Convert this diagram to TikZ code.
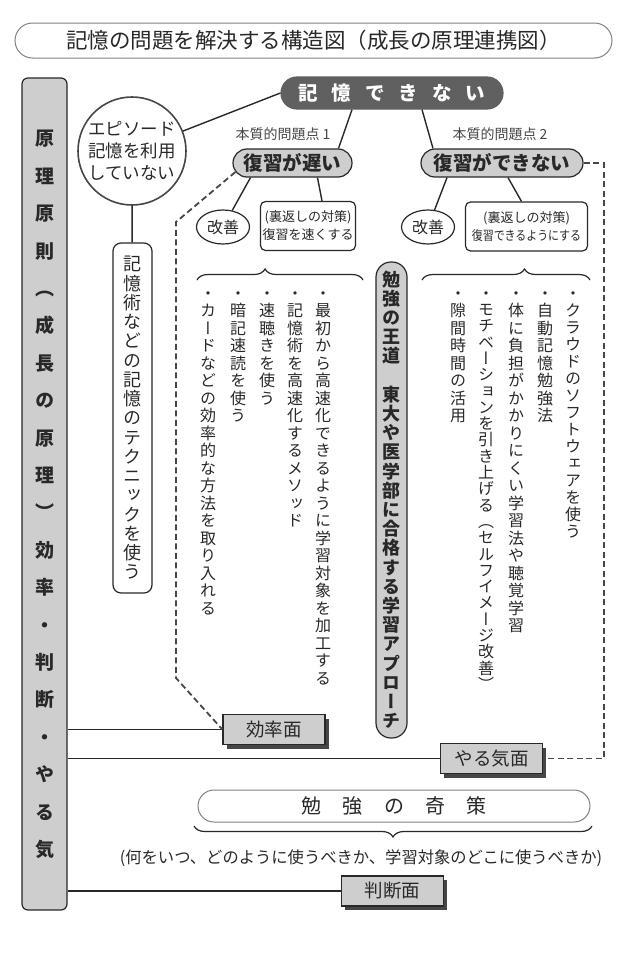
\documentclass[tikz,border=0pt]{standalone}
\usepackage{fontspec}
\usepackage{graphicx}
\setmainfont{Noto Sans CJK JP}
\newfontfamily\jpv[RawFeature=+vert]{Noto Sans CJK JP}
\usetikzlibrary{calc,shapes.geometric,shadows,decorations.pathreplacing}
\definecolor{mygrayi}{RGB}{206,206,206}
\definecolor{mygrayii}{RGB}{96,96,96}
\definecolor{mygrayiii}{RGB}{70,70,70}
\definecolor{myink}{RGB}{40,40,40}
% vertical text: one character per line, fixed pitch
\newcommand\tate[2]{\vbox{\baselineskip=#1\lineskiplimit=-\maxdimen\tatego#2\relax}}
\def\tatego#1{\ifx\relax#1\else\hbox to 1em{\hss\vrule height .88em depth .12em width 0pt\relax#1\hss}\expandafter\tatego\fi}
% spaced-out horizontal text
\newcommand\spaced[2]{\def\spgap{#1}\spgo#2\relax}
\def\spgo#1{\ifx\relax#1\else\kern\spgap#1\kern\spgap\expandafter\spgo\fi}

\begin{document}
\begin{tikzpicture}[x=1pt,y=-1pt,
titleb/.style={
  draw=gray,
  line width=1pt,
  rounded corners=17.5pt,
  minimum width=597pt,
  minimum height=35pt,
  text=myink,
  font=\fontsize{21.5pt}{24pt}\selectfont},
genb/.style={
  draw=myink,
  line width=1.2pt,
  fill=mygrayi,
  rounded corners=6pt,
  minimum width=45pt,
  minimum height=832pt,
  inner sep=0pt,
  text=myink,
  font=\fontsize{19pt}{19pt}\selectfont\jpv\bfseries},
pillb/.style={
  draw=myink,
  line width=1.2pt,
  fill=mygrayi,
  rounded corners=14pt,
  minimum height=28pt,
  inner sep=2pt,
  text=myink,
  font=\fontsize{19.5pt}{20pt}\selectfont\bfseries},
darkb/.style={pillb,draw=mygrayii,fill=mygrayii,text=white,
  rounded corners=16pt,minimum height=32pt,minimum width=222pt},
kaib/.style={ellipse,draw=myink,line width=1.2pt,minimum width=53pt,minimum height=34pt,
  inner sep=0pt,text=myink,font=\fontsize{16pt}{16pt}\selectfont},
urab/.style={draw=myink,line width=1.2pt,rounded corners=5pt,minimum height=49pt,
  align=center,inner sep=2pt,text=myink,font=\fontsize{13pt}{18pt}\selectfont},
listb/.style={anchor=north,inner sep=0pt,text=myink,
  font=\fontsize{16pt}{16pt}\selectfont\jpv},
menb/.style={
  draw=myink,
  line width=1.2pt,
  fill=mygrayi,
  minimum width=102pt,
  minimum height=30pt,
  text=myink,
  font=\fontsize{18.5pt}{18.5pt}\selectfont,
  drop shadow={shadow xshift=3.5pt,shadow yshift=-4pt,fill=mygrayiii,opacity=1}},
conn/.style={draw=myink,line width=1.4pt},
dashl/.style={draw=mygrayiii,line width=1.8pt,dash pattern=on 6pt off 3.5pt},
braceb/.style={draw=myink,line width=1.2pt,decorate,decoration={brace,amplitude=11pt,#1}},
]
\useasboundingbox (0,0) rectangle (633,961);
\node[titleb] (Tit) at (313.5,40.5) {記憶の問題を解決する構造図（成長の原理連携図）};
\node[genb] (Gen) at (44.5,494) {\tate{37.4pt}{原理原則（成長の原理）効率・判断・やる気}};
\node[darkb] (Kio) at (392,93) {\spaced{7pt}{記憶できない}};
\node[circle,draw=mygrayiii,line width=1.6pt,minimum size=108pt,inner sep=0pt,align=center,
  text=myink,font=\fontsize{17.5pt}{22pt}\selectfont] (Epi) at (132,151) {エピソード\\記憶を利用\\していない};
\node[draw=myink,line width=1.2pt,rounded corners=8pt,minimum width=39pt,minimum height=350pt,inner sep=0pt,
  text=myink,font=\fontsize{18pt}{18pt}\selectfont\jpv] (Jut) at (132.5,418)
  {\tate{19.25pt}{記憶術などの記憶のテクニックを使う}};
\node[text=mygrayiii,font=\fontsize{14pt}{14pt}\selectfont] (Hon1) at (283,134) {本質的問題点 1};
\node[text=mygrayiii,font=\fontsize{14pt}{14pt}\selectfont] (Hon2) at (500,134) {本質的問題点 2};
\node[pillb,minimum width=119pt] (Fu1) at (292.5,163) {復習が遅い};
\node[pillb,minimum width=162pt] (Fu2) at (502,163) {復習ができない};
\node[kaib] (Kai1) at (223,227) {改善};
\node[kaib] (Kai2) at (428,227) {改善};
\node[urab,minimum width=90pt] (Ura1) at (308,226) {(裏返しの対策)\\復習を速くする};
\node[urab,minimum width=122pt] (Ura2) at (526.5,226.5) {(裏返しの対策)\\\scalebox{0.84}[1]{復習できるようにする}};
% braces over the two lists
\draw[braceb={aspect=0.41}] (197,280) -- (363,280);
\draw[braceb={aspect=0.61}] (422,280) -- (590,280);
\node[listb] (L1) at (323,285) {\tate{17.5pt}{・最初から高速化できるように学習対象を加工する}};
\node[listb] (L2) at (295,285) {\tate{17.5pt}{・記憶術を高速化するメソッド}};
\node[listb] (L3) at (267,285) {\tate{17.5pt}{・速聴きを使う}};
\node[listb] (L4) at (238,285) {\tate{17.5pt}{・暗記速読を使う}};
\node[listb] (L5) at (208,285) {\tate{17.5pt}{・カードなどの効率的な方法を取り入れる}};
\node[listb] (R1) at (573,285) {\tate{17pt}{・クラウドのソフトウェアを使う}};
\node[listb] (R2) at (545,285) {\tate{17.5pt}{・自動記憶勉強法}};
\node[listb] (R3) at (516,285) {\tate{17.5pt}{・体に負担がかかりにくい学習法や聴覚学習}};
\node[listb] (R4) at (486,285) {\tate{16.3pt}{・モチベーションを引き上げる（セルフイメージ改善）}};
\node[listb] (R5) at (458,285) {\tate{17.5pt}{・隙間時間の活用}};
\node[draw=myink,line width=1.2pt,fill=mygrayi,rounded corners=15pt,minimum width=31pt,minimum height=476pt,
  inner sep=0pt,text=myink,font=\fontsize{18pt}{18pt}\selectfont\jpv\bfseries] (Oud) at (391.5,500)
  {\tate{19.2pt}{勉強の王道　東大や医学部に合格する学習アプローチ}};
\node[menb] (Kou) at (274,729.5) {効率面};
\node[menb] (Yar) at (491.5,758.5) {やる気面};
\node[menb] (Han) at (392.5,891) {判断面};
\node[draw=gray,line width=1pt,rounded corners=16pt,minimum width=392pt,minimum height=32pt,
  text=myink,font=\fontsize{20pt}{20pt}\selectfont] (Kis) at (394,806) {\spaced{10.6pt}{勉強の奇策}};
\draw[braceb={aspect=0.5}] (592,826) -- (194,826);
\node[text=myink,font=\fontsize{16.3pt}{16.3pt}\selectfont] (Nan) at (361,858)
  {(何をいつ、どのように使うべきか、学習対象のどこに使うべきか)};
% connectors
\draw[conn] (Epi) -- (Kio.west);
\draw[conn] (Epi) -- (Jut);
\draw[conn] ($(Kio.south)+(-40,0)$) -- ($(Fu1.north)+(46,0)$);
\draw[conn] ($(Kio.south)+(30,0)$) -- ($(Fu2.north)+(-69,0)$);
\draw[conn] ($(Fu1.south)+(-42,0)$) -- (Kai1);
\draw[conn] ($(Fu1.south)+(25,0)$) -- ($(Ura1.north)+(14,0)$);
\draw[conn] ($(Fu2.south)+(-55,0)$) -- (Kai2);
\draw[conn] ($(Fu2.south)+(6,0)$) -- ($(Ura2.north)+(-5,0)$);
\draw[conn] (Gen.east |- Kou.west) -- (Kou.west);
\draw[conn] (Gen.east |- Yar.west) -- (Yar.west);
\draw[conn] (Gen.east |- Han.west) -- (Han.west);
% dashed links
\coordinate (DL1) at (176,222);
\coordinate (DL2) at (176,678);
\draw[dashl] ($(Fu1.west)+(3,9)$) -- (DL1) -- (DL2) -- (Kou.west);
\draw[dashl] (Fu2.east) -- ++(20,0) |- (Yar.east);
\end{tikzpicture}
\end{document}
